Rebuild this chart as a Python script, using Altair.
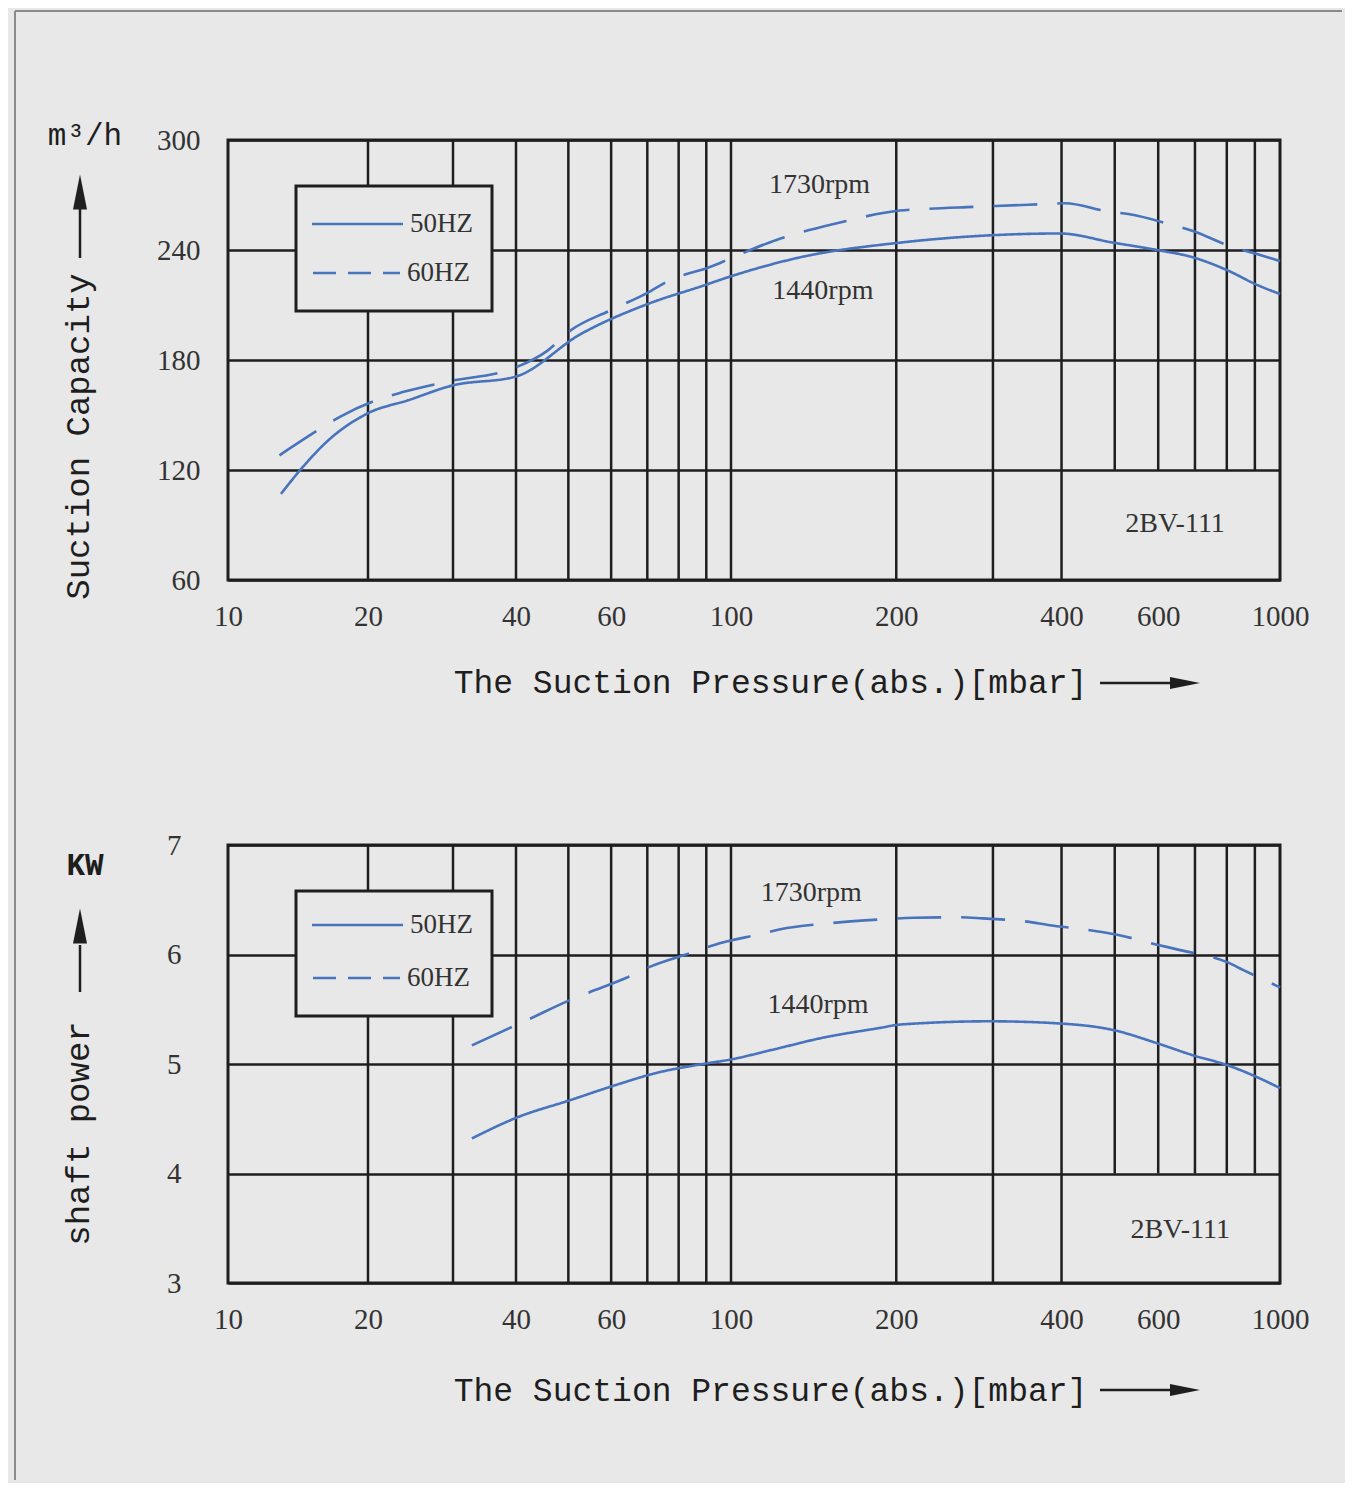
import altair as alt
import pandas as pd

# ---------------- data ----------------
x_domain = [10, 20, 30, 40, 100, 1000]
x_grid = [20, 30, 40, 50, 60, 70, 80, 90, 100, 200, 300, 400, 500, 600, 700, 800, 900]
x_short = [500, 600, 700, 800, 900]          # lines that stop at the lower grid line
x_ticks = [10, 20, 40, 60, 100, 200, 400, 600, 1000]

cap_ticks = [60, 120, 180, 240, 300]
pow_ticks = [3, 4, 5, 6, 7]

series_names = ["50HZ", "60HZ"]

cap50_x = [13.0, 14.3, 16.4, 20, 24.2, 29.8, 40, 52.6, 70.8, 87.7, 100.8, 133.6, 203, 296, 397, 497, 597, 694, 801, 908, 1000]
cap50_y = [107, 120, 136, 151, 158, 166, 171, 194, 211, 220, 226, 236, 244, 248, 249, 244, 240, 236, 229, 221, 216]

cap60_x = [12.9, 15.9, 17.4, 21.3, 23.6, 28.9, 40, 45.7, 50.4, 59.7, 69.9, 77.1, 91.4, 100.8, 121, 132, 158, 174, 203, 229, 276, 303, 369, 406, 486, 529, 638, 694, 801, 920, 1000]
cap60_y = [128, 143, 149, 159, 162.5, 168, 176, 185, 196, 207, 216.5, 223.6, 230.7, 236, 245.5, 249, 255, 258, 261.5, 262.5, 263.5, 264, 265, 265.5, 261, 259.6, 253.6, 250.4, 242.7, 237.3, 234]

pow50_x = [32.7, 40.1, 50.4, 60.5, 73.0, 88.7, 99.6, 119, 147, 187, 203, 296, 397, 497, 597, 694, 801, 908, 1000]
pow50_y = [4.32, 4.51, 4.67, 4.80, 4.92, 5.00, 5.04, 5.13, 5.24, 5.33, 5.36, 5.39, 5.37, 5.31, 5.19, 5.08, 4.99, 4.88, 4.78]

pow60_x = [32.7, 38.9, 41.9, 50.4, 54.4, 65.6, 70.2, 85.0, 93.4, 114, 123, 147, 163, 187, 215, 261, 287, 346, 378, 460, 505, 597, 658, 801, 856, 1000]
pow60_y = [5.17, 5.33, 5.40, 5.585, 5.65, 5.81, 5.88, 6.02, 6.09, 6.19, 6.23, 6.28, 6.30, 6.32, 6.335, 6.34, 6.33, 6.30, 6.27, 6.215, 6.18, 6.09, 6.04, 5.93, 5.86, 5.70]

note_labels = ["1730rpm", "1440rpm", "2BV-111"]
cap_note_x = [145, 147, 644]
cap_note_y = [275.5, 217.6, 90.5]
pow_note_x = [140, 144, 658]
pow_note_y = [6.56, 5.54, 3.48]

# ---------------- style ----------------
FONT_NUM = "Liberation Serif"
FONT_TXT = "Liberation Mono"
INK = "#1e1e1e"
LABEL = "#333333"
BLUE = "#4873bd"
BG = "#e8e8e8"
FRAME = "#8a8a8a"

xs = alt.Scale(type="log", domain=x_domain, range=[0, 140, 225, 288, 503, 1052], nice=False)
one = pd.DataFrame({"k": [0]})


def make_panel(y_dom, y_ticks, y_short_from, y_title, y_title_y, y_label_pad, height,
               xa, ya, xb, yb, nx, ny, unit_text, unit_y, unit_weight, up_rule, up_head,
               x_title_y, right_arrow_y, leg_y, with_frame):
    ys = alt.Scale(domain=y_dom, nice=False, zero=False)
    x_axis = alt.Axis(values=x_ticks, format="d", grid=False, domain=False, ticks=False,
                      labelPadding=22, labelFlush=False, labelOverlap=False,
                      labelFont=FONT_NUM, labelFontSize=29, labelColor=LABEL,
                      title="The Suction Pressure(abs.)[mbar]", titleFont=FONT_TXT,
                      titleFontSize=33, titleFontWeight="normal", titleColor=INK,
                      titleX=542, titleY=x_title_y, titleAlign="center", titleBaseline="middle")
    y_axis = alt.Axis(values=y_ticks, format="d", grid=True, gridColor=INK, gridWidth=2.5,
                      gridOpacity=1, domain=False, ticks=False, labelPadding=y_label_pad,
                      labelFont=FONT_NUM, labelFontSize=29, labelColor=LABEL,
                      title=y_title, titleFont=FONT_TXT, titleFontSize=34,
                      titleFontWeight="normal", titleColor=INK, titleAngle=270,
                      titleX=-150, titleY=y_title_y, titleAlign="center", titleBaseline="middle")

    def X(f):
        return alt.X(f, type="quantitative", scale=xs, axis=x_axis)

    def Y(f):
        return alt.Y(f, type="quantitative", scale=ys, axis=y_axis)

    grid_df = pd.DataFrame({
        "gx": x_grid,
        "y0": [y_short_from if v in x_short else y_dom[0] for v in x_grid],
        "y1": [y_dom[1]] * len(x_grid),
    })
    grid = alt.Chart(grid_df).mark_rule(color=INK, strokeWidth=2.5).encode(
        x=X("gx"), y=Y("y0"), y2=alt.Y2("y1"))

    curves_df = pd.concat([
        pd.DataFrame({"p": xa, "v": ya, "series": series_names[0]}),
        pd.DataFrame({"p": xb, "v": yb, "series": series_names[1]}),
    ])
    curves = alt.Chart(curves_df).mark_line(interpolate="monotone", strokeWidth=2.6, color=BLUE).encode(
        x=X("p"), y=Y("v"),
        strokeDash=alt.StrokeDash("series:N", scale=alt.Scale(domain=series_names, range=[[1, 0], [44, 20]]), legend=None),
    )

    notes_df = pd.DataFrame({"nx": nx, "ny": ny, "label": note_labels})
    notes = alt.Chart(notes_df).mark_text(font=FONT_NUM, fontSize=28, color=LABEL).encode(
        x=X("nx"), y=Y("ny"), text="label:N")

    # legend box
    leg_box = alt.Chart(one).mark_rect(fill=BG, stroke=INK, strokeWidth=3).encode(
        x=alt.value(68), x2=alt.value(264), y=alt.value(46), y2=alt.value(171))
    leg_s50 = alt.Chart(one).mark_rule(color=BLUE, strokeWidth=2.5).encode(
        x=alt.value(84), x2=alt.value(175), y=alt.value(leg_y[0]))
    leg_s60 = alt.Chart(one).mark_rule(color=BLUE, strokeWidth=2.5, strokeDash=[23, 12]).encode(
        x=alt.value(85), x2=alt.value(172), y=alt.value(leg_y[1]))
    leg_t50 = alt.Chart(one).mark_text(align="left", baseline="middle", font=FONT_NUM, fontSize=27, color=LABEL).encode(
        x=alt.value(182), y=alt.value(leg_y[0]), text=alt.value(series_names[0]))
    leg_t60 = alt.Chart(one).mark_text(align="left", baseline="middle", font=FONT_NUM, fontSize=27, color=LABEL).encode(
        x=alt.value(179), y=alt.value(leg_y[1]), text=alt.value(series_names[1]))

    # unit and arrows
    unit = alt.Chart(one).mark_text(font=FONT_TXT, fontSize=31, fontWeight=unit_weight, color=INK).encode(
        x=alt.value(-143), y=alt.value(unit_y), text=alt.value(unit_text))
    up_line = alt.Chart(one).mark_rule(color=INK, strokeWidth=2.5).encode(
        x=alt.value(-148), y=alt.value(up_rule[0]), y2=alt.value(up_rule[1]))
    up_tip = alt.Chart(one).mark_point(shape="M-0.4,1L0,-1L0.4,1Z", filled=True, color=INK, opacity=1, size=1225).encode(
        x=alt.value(-148), y=alt.value(up_head))
    rt_line = alt.Chart(one).mark_rule(color=INK, strokeWidth=2.5).encode(
        x=alt.value(872), x2=alt.value(950), y=alt.value(right_arrow_y))
    rt_tip = alt.Chart(one).mark_point(shape="M-1,-0.4L1,0L-1,0.4Z", filled=True, color=INK, opacity=1, size=900).encode(
        x=alt.value(957), y=alt.value(right_arrow_y))

    layers = [grid, curves, notes, leg_box, leg_s50, leg_s60, leg_t50, leg_t60,
              unit, up_line, up_tip, rt_line, rt_tip]
    if with_frame:
        frame_v = alt.Chart(one).mark_rule(color=FRAME, strokeWidth=2).encode(
            x=alt.value(-213), y=alt.value(-129), y2=alt.value(1340))
        frame_h = alt.Chart(one).mark_rule(color=FRAME, strokeWidth=2).encode(
            x=alt.value(-213), x2=alt.value(1114), y=alt.value(-129))
        layers = [frame_v, frame_h] + layers
    return alt.layer(*layers).properties(width=1052, height=height)


top = make_panel([60, 300], cap_ticks, 120, "Suction Capacity", 296, 28, 440,
                 cap50_x, cap50_y, cap60_x, cap60_y, cap_note_x, cap_note_y,
                 "m³/h", -4, "normal", (65, 118), 52, 102, 543, (84, 133), True)
bottom = make_panel([3, 7], pow_ticks, 4, "shaft power", 288, 47, 438,
                    pow50_x, pow50_y, pow60_x, pow60_y, pow_note_x, pow_note_y,
                    "KW", 21, "bold", (100, 147), 81, 107, 545, (80, 133), False)

chart = alt.vconcat(top, bottom, spacing=265, bounds="flush").properties(
    padding={"left": 4, "top": 0, "right": 0, "bottom": 0}
).configure(background=BG).configure_view(stroke=INK, strokeWidth=3)

chart.save("out.html", embed_options={"renderer": "svg", "actions": False})
